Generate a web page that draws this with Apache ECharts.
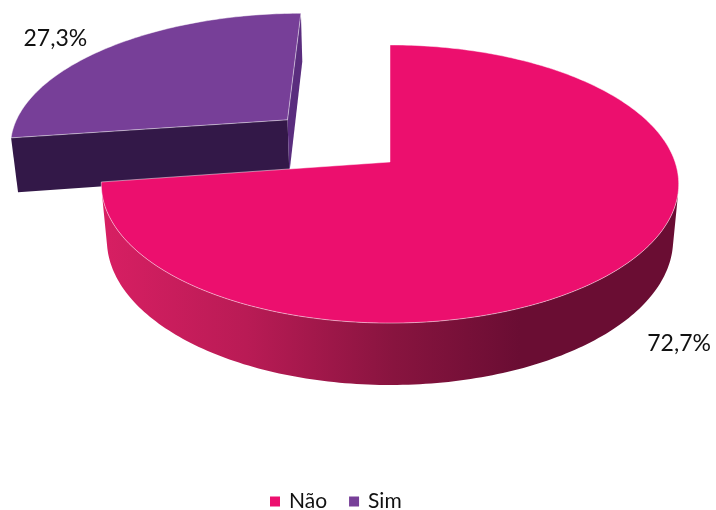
<!DOCTYPE html>
<html>
<head>
<meta charset="utf-8">
<script src="https://cdn.jsdelivr.net/npm/echarts@6/dist/echarts.min.js"></script>
<style>html,body{margin:0;padding:0;background:#fff}#chart{width:716px;height:510px}</style>
</head>
<body>
<div id="chart"></div>
<script>
// ---- data ----
const categories = ['Não', 'Sim'];
const values = [72.7, 27.3];
const labelTexts = ['72,7%', '27,3%'];

// ---- styling / 3D look ----
const topColors = ['#EC0F6E', '#773F98'];
const startFaceColors = ['#7A1038', '#331848'];
const endFaceColors = ['#7A1038', '#5A2D7E'];
const wallColors = [
  {type:'linear', x:100, y:0, x2:520, y2:0, global:true,
   colorStops:[{offset:0,color:'#D81F63'},{offset:0.35,color:'#B91B55'},{offset:0.7,color:'#88143F'},{offset:1,color:'#6A0D33'}]},
  '#4A2468'
];
const explode = [0, 0.5];
const labelShift = [[0, 0], [-23, 5]];

const CAM = {cx:390, cy:162, f:1585, D:5.56, alpha:28.4*Math.PI/180, h:0.225};
const S = Math.sin(CAM.alpha), C = Math.cos(CAM.alpha);
function proj(X, Y, Z){
  const depth = CAM.D - Y*S + Z*C;
  return [CAM.cx + CAM.f*X/depth, CAM.cy - CAM.f*(Y*C + Z*S)/depth];
}
const total = values.reduce((a,b)=>a+b, 0);
const rad = d => d*Math.PI/180;

function makeRender(idx){
  return function(params, api){
    const v = api.value(0);
    let cum = 0;
    for (let j = 0; j < idx; j++) cum += values[j];
    const a0 = 90 - cum/total*360;
    const a1 = a0 - v/total*360;
    const mid = rad((a0+a1)/2);
    const ox = explode[idx]*Math.cos(mid), oz = explode[idx]*Math.sin(mid);
    const h = CAM.h;
    const n = Math.max(2, Math.ceil(Math.abs(a0-a1)));
    const angs = [];
    for (let k = 0; k <= n; k++) angs.push(rad(a0 + (a1-a0)*k/n));
    const top = a => proj(ox+Math.cos(a), 0, oz+Math.sin(a));
    const bot = a => proj(ox+Math.cos(a), -h, oz+Math.sin(a));
    const children = [];
    const DC = CAM.D*C;
    // radial faces
    const faces = [
      {a: rad(a0), nx: -Math.sin(rad(a0)), nz: Math.cos(rad(a0)), col: startFaceColors[idx]},
      {a: rad(a1), nx: Math.sin(rad(a1)), nz: -Math.cos(rad(a1)), col: endFaceColors[idx]}
    ];
    faces.forEach(fc => {
      const vis = (-ox)*fc.nx + (-DC - oz)*fc.nz;
      if (vis > 0) {
        children.push({type:'polygon', z2:1, shape:{points:[
          proj(ox,0,oz), top(fc.a), bot(fc.a), proj(ox,-h,oz)]},
          style:{fill: fc.col}});
      }
    });
    // outer wall: visible runs
    let run = [];
    const flush = () => {
      if (run.length >= 2) {
        const pts = run.map(top).concat(run.slice().reverse().map(bot));
        children.push({type:'polygon', z2:2, shape:{points:pts}, style:{fill: wallColors[idx]}});
      }
      run = [];
    };
    angs.forEach(a => {
      const vis = -ox*Math.cos(a) - (DC+oz)*Math.sin(a) - 1;
      if (vis > 0) run.push(a); else flush();
    });
    flush();
    // top face
    const tp = [proj(ox,0,oz)].concat(angs.map(top));
    children.push({type:'polygon', z2:3, shape:{points:tp},
      style:{fill: topColors[idx], stroke:'rgba(255,255,255,0.6)', lineWidth:0.8}});
    // label
    const nearSide = Math.sin(mid) < 0;
    const lp = proj(ox+1.2*Math.cos(mid), nearSide ? -h : 0, oz+1.2*Math.sin(mid));
    children.push({type:'text', z2:4, x: lp[0]+labelShift[idx][0], y: lp[1]+labelShift[idx][1],
      style:{text: labelTexts[idx], fill:'#111', font:'23px Lato',
        align:'center', verticalAlign:'middle', textAlign:'center', textVerticalAlign:'middle'}});
    return {type:'group', children};
  };
}

const order = [1, 0]; // draw the back slice first
const chart = echarts.init(document.getElementById('chart'), null, {renderer:'canvas'});
chart.setOption({
  animation: false,
  backgroundColor: '#fff',
  legend: {
    data: categories.slice(),
    left: 265, top: 486, orient: 'horizontal',
    icon: 'rect', itemWidth: 10, itemHeight: 10, itemGap: 22,
    textStyle: {fontFamily:'Lato', fontSize:21, color:'#111', padding:[0,0,0,4]}
  },
  series: order.map((i, k) => ({
    type: 'custom',
    name: categories[i],
    coordinateSystem: 'none',
    z: 2 + k,
    itemStyle: {color: topColors[i]},
    data: [[values[i]]],
    renderItem: makeRender(i)
  }))
});
</script>
</body>
</html>
